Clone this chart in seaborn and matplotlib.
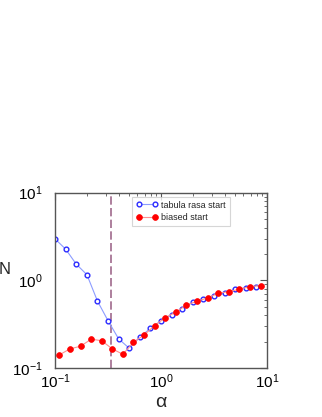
import numpy as np
import matplotlib
matplotlib.use("Agg")
import matplotlib.pyplot as plt
import seaborn as sns
from matplotlib.ticker import LogLocator, NullFormatter

# values
alpha_tabula = [0.100, 0.126, 0.158, 0.200, 0.251, 0.316, 0.398, 0.501, 0.631, 0.794,
                1.000, 1.259, 1.585, 1.995, 2.512, 3.162, 3.981, 5.012, 6.310, 7.943]
n_tabula = [2.97, 2.27, 1.54, 1.16, 0.584, 0.348, 0.216, 0.169, 0.225, 0.285,
            0.346, 0.408, 0.470, 0.565, 0.616, 0.671, 0.715, 0.794, 0.822, 0.850]

alpha_biased = [0.110, 0.138, 0.174, 0.219, 0.275, 0.347, 0.437, 0.550, 0.692, 0.871,
                1.096, 1.380, 1.738, 2.188, 2.754, 3.467, 4.365, 5.495, 6.918, 8.710]
n_biased = [0.142, 0.166, 0.178, 0.214, 0.206, 0.166, 0.144, 0.198, 0.239, 0.306,
            0.377, 0.435, 0.526, 0.580, 0.632, 0.715, 0.745, 0.794, 0.850, 0.873]

alpha_c = 0.335

sns.set_style("white")
plt.rcParams['font.family'] = ['Liberation Sans', 'DejaVu Sans']
plt.rcParams['mathtext.default'] = 'regular'

fig = plt.figure(figsize=(3.22, 4.17), dpi=100)
ax = fig.add_axes([0.171, 0.117, 0.658, 0.421])

sns.lineplot(x=alpha_tabula, y=n_tabula, ax=ax, color='#8c9cff', lw=0.8,
             marker='o', markersize=3.4, markerfacecolor='white',
             markeredgecolor='#2a2aff', markeredgewidth=1.0,
             label='tabula rasa start', sort=False)
sns.lineplot(x=alpha_biased, y=n_biased, ax=ax, color='#ff9090', lw=0.8,
             marker='o', markersize=4.2, markerfacecolor='#ff0000',
             markeredgecolor='#ff0000', markeredgewidth=0.5,
             label='biased start', sort=False)

ax.axvline(alpha_c, color='#a06a8c', lw=1.2, ls=(0, (5, 2)), zorder=1)

ax.set_xscale('log')
ax.set_yscale('log')
ax.set_xlim(0.1, 10)
ax.set_ylim(0.1, 10)

for a in (ax.xaxis, ax.yaxis):
    a.set_major_locator(LogLocator(base=10, numticks=10))
    a.set_minor_locator(LogLocator(base=10, subs=np.arange(2, 10), numticks=10))
    a.set_minor_formatter(NullFormatter())

ax.tick_params(which='both', direction='in', top=True, right=True,
               colors='#555555', labelcolor='black', labelsize=11)
ax.tick_params(which='major', length=5, width=0.8)
ax.tick_params(which='minor', length=2.5, width=0.6)
ax.tick_params(axis='x', pad=3)
ax.tick_params(axis='y', pad=9)
for s in ax.spines.values():
    s.set_color('#555555')
    s.set_linewidth(1.0)

ax.set_xlabel('α', fontsize=14, labelpad=2)
ax.set_ylabel('N', fontsize=12, rotation=0)
ax.yaxis.set_label_coords(-0.236, 0.52)

leg = ax.legend(loc='upper left', bbox_to_anchor=(0.362, 0.978), fontsize=6.5,
                numpoints=2, handlelength=2.4, frameon=True, fancybox=False,
                borderpad=0.45, labelspacing=0.35, handletextpad=0.4,
                borderaxespad=0)
leg.get_frame().set_edgecolor('#cccccc')
leg.get_frame().set_linewidth(0.8)

fig.savefig('out.png', dpi=100)
